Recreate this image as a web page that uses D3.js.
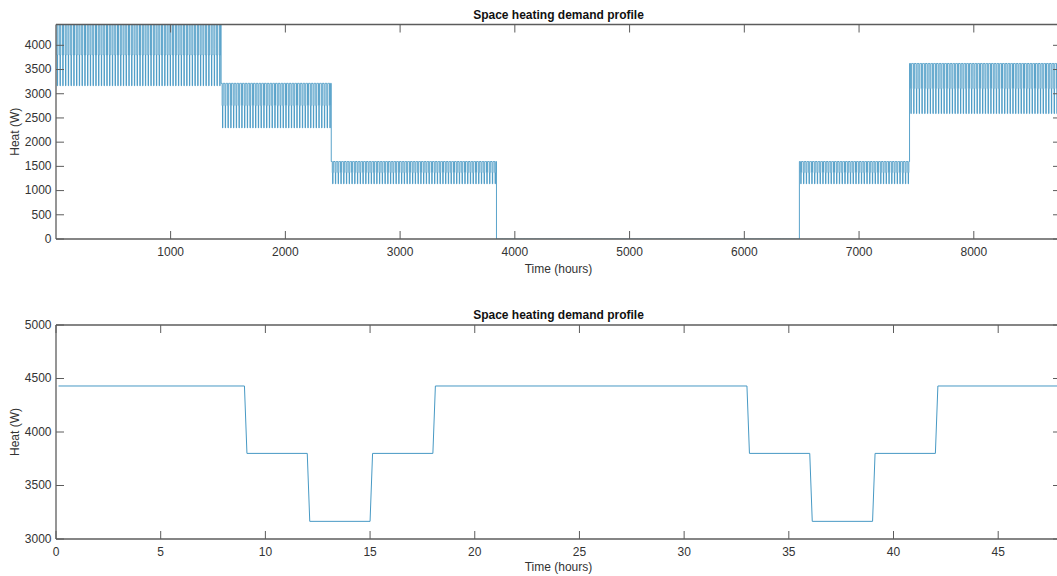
<!DOCTYPE html>
<html>
<head>
<meta charset="utf-8">
<script src="https://cdn.jsdelivr.net/npm/d3@7"></script>
<style>
  html, body { margin: 0; padding: 0; background: #fff; }
  svg { display: block; }
  text { font-family: "Liberation Sans", Arial, Helvetica, sans-serif; }
</style>
</head>
<body>
<svg id="fig" width="1057" height="576"></svg>
<script>
// ---- Annual profile: seasonal blocks (hours of the year) ----
const seasonStart = [0, 1440, 2400, 3840, 6480, 7440];
const seasonEnd   = [1440, 2400, 3840, 6480, 7440, 8760];
// Heat level during the day for each block: peak (night/evening), mid, low (midday)
const seasonPeak  = [4430, 3215, 1600, 0, 1600, 3625];
const seasonMid   = [3800, 2755, 1370, 0, 1370, 3105];
const seasonLow   = [3165, 2295, 1140, 0, 1140, 2590];

// Daily schedule: hour of day at which the level changes, and the level that follows
const changeHours = [9, 12, 15, 18];
const changeLevel = ["mid", "low", "mid", "peak"];
const rampHours = 0.12;

// ---- First two days in detail ----
const detailHours = [0.12, 9, 9.12, 12, 12.12, 15, 15.12, 18, 18.12,
                     33, 33.12, 36, 36.12, 39, 39.12, 42, 42.12, 48];
const detailHeat  = [4430, 4430, 3800, 3800, 3165, 3165, 3800, 3800, 4430,
                     4430, 3800, 3800, 3165, 3165, 3800, 3800, 4430, 4430];

// Tick values
const topXTicks = [1000, 2000, 3000, 4000, 5000, 6000, 7000, 8000];
const topYTicks = [0, 500, 1000, 1500, 2000, 2500, 3000, 3500, 4000];
const botXTicks = [0, 5, 10, 15, 20, 25, 30, 35, 40, 45];
const botYTicks = [3000, 3500, 4000, 4500, 5000];

const titleText = "Space heating demand profile";
const xLabelText = "Time (hours)";
const yLabelText = "Heat (W)";

// Build the hourly year series from the seasonal blocks and the daily schedule
const yearSeries = [];
seasonStart.forEach((s0, i) => {
  const lv = { peak: seasonPeak[i], mid: seasonMid[i], low: seasonLow[i] };
  for (let day = s0; day < seasonEnd[i]; day += 24) {
    let cur = lv.peak;
    yearSeries.push([Math.max(day, 1), cur]);
    changeHours.forEach((h, k) => {
      yearSeries.push([day + h, cur]);
      cur = lv[changeLevel[k]];
      yearSeries.push([day + h + rampHours, cur]);
    });
    yearSeries.push([day + 24, cur]);
  }
});
const detailSeries = detailHours.map((h, i) => [h, detailHeat[i]]);

// ---- Drawing ----
const svg = d3.select("#fig");
const lineColor = "#4799c4";
const axisColor = "#5c5c5c";
const labelColor = "#333";
const left = 56, right = 1061;
const tickLen = 8;
const fmt = d3.format("d");

function drawPanel(cfg) {
  const x = d3.scaleLinear().domain(cfg.xDomain).range([left, right]);
  const y = d3.scaleLinear().domain(cfg.yDomain).range([cfg.bottom, cfg.top]);
  const g = svg.append("g");

  // clip for the data line
  const clipId = "clip" + cfg.id;
  svg.append("clipPath").attr("id", clipId)
    .append("rect").attr("x", left).attr("y", cfg.top - 1)
    .attr("width", right - left).attr("height", cfg.bottom - cfg.top + 1);

  const line = d3.line().x(d => x(d[0])).y(d => y(d[1]));
  g.append("path")
    .datum(cfg.data)
    .attr("clip-path", `url(#${clipId})`)
    .attr("fill", "none")
    .attr("stroke", lineColor)
    .attr("stroke-width", cfg.lineWidth)
    .attr("stroke-linejoin", "miter")
    .attr("d", line);

  // axes: tick marks point inward, box around the plot
  const bottomAxis = d3.axisBottom(x).tickValues(cfg.xTicks).tickFormat(fmt)
    .tickSizeInner(-tickLen).tickSizeOuter(0).tickPadding(8).offset(0);
  const topAxis = d3.axisTop(x).tickValues(cfg.xTicks).tickFormat("")
    .tickSizeInner(-tickLen).tickSizeOuter(0).offset(0);
  const leftAxis = d3.axisLeft(y).tickValues(cfg.yTicks).tickFormat(fmt)
    .tickSizeInner(-tickLen).tickSizeOuter(0).tickPadding(4.5).offset(0);
  const rightAxis = d3.axisRight(y).tickValues(cfg.yTicks).tickFormat("")
    .tickSizeInner(-tickLen).tickSizeOuter(0).offset(0);

  const axes = [
    [bottomAxis, `translate(0,${cfg.bottom})`],
    [topAxis, `translate(0,${cfg.top})`],
    [leftAxis, `translate(${left},0)`],
    [rightAxis, `translate(${right},0)`]
  ];
  axes.forEach(([ax, tr]) => {
    const a = g.append("g").attr("transform", tr).call(ax);
    a.selectAll("path.domain").attr("stroke", axisColor).attr("stroke-width", 1.3);
    a.selectAll(".tick line").attr("stroke", axisColor).attr("stroke-width", 1);
    a.selectAll(".tick text")
      .attr("fill", labelColor)
      .style("font-size", "12px")
      .style("font-family", '"Liberation Sans", Arial, sans-serif');
  });

  // title
  g.append("text")
    .attr("x", (left + right) / 2)
    .attr("y", cfg.top - 6)
    .attr("text-anchor", "middle")
    .attr("font-size", 12)
    .attr("font-weight", "bold")
    .attr("fill", "#111")
    .text(titleText);

  // x label
  g.append("text")
    .attr("x", (left + right) / 2)
    .attr("y", cfg.bottom + cfg.xLabelGap)
    .attr("text-anchor", "middle")
    .attr("font-size", 12)
    .attr("fill", labelColor)
    .text(xLabelText);

  // y label
  g.append("text")
    .attr("transform", `translate(19,${(cfg.top + cfg.bottom) / 2}) rotate(-90)`)
    .attr("text-anchor", "middle")
    .attr("font-size", 12)
    .attr("fill", labelColor)
    .text(yLabelText);
}

drawPanel({
  id: "Year", top: 24.5, bottom: 239,
  xDomain: [1, 8760], yDomain: [0, 4430],
  xTicks: topXTicks, yTicks: topYTicks,
  data: yearSeries, lineWidth: 0.9, xLabelGap: 34
});

drawPanel({
  id: "TwoDays", top: 325, bottom: 539,
  xDomain: [0, 48], yDomain: [3000, 5000],
  xTicks: botXTicks, yTicks: botYTicks,
  data: detailSeries, lineWidth: 1, xLabelGap: 32
});
</script>
</body>
</html>
